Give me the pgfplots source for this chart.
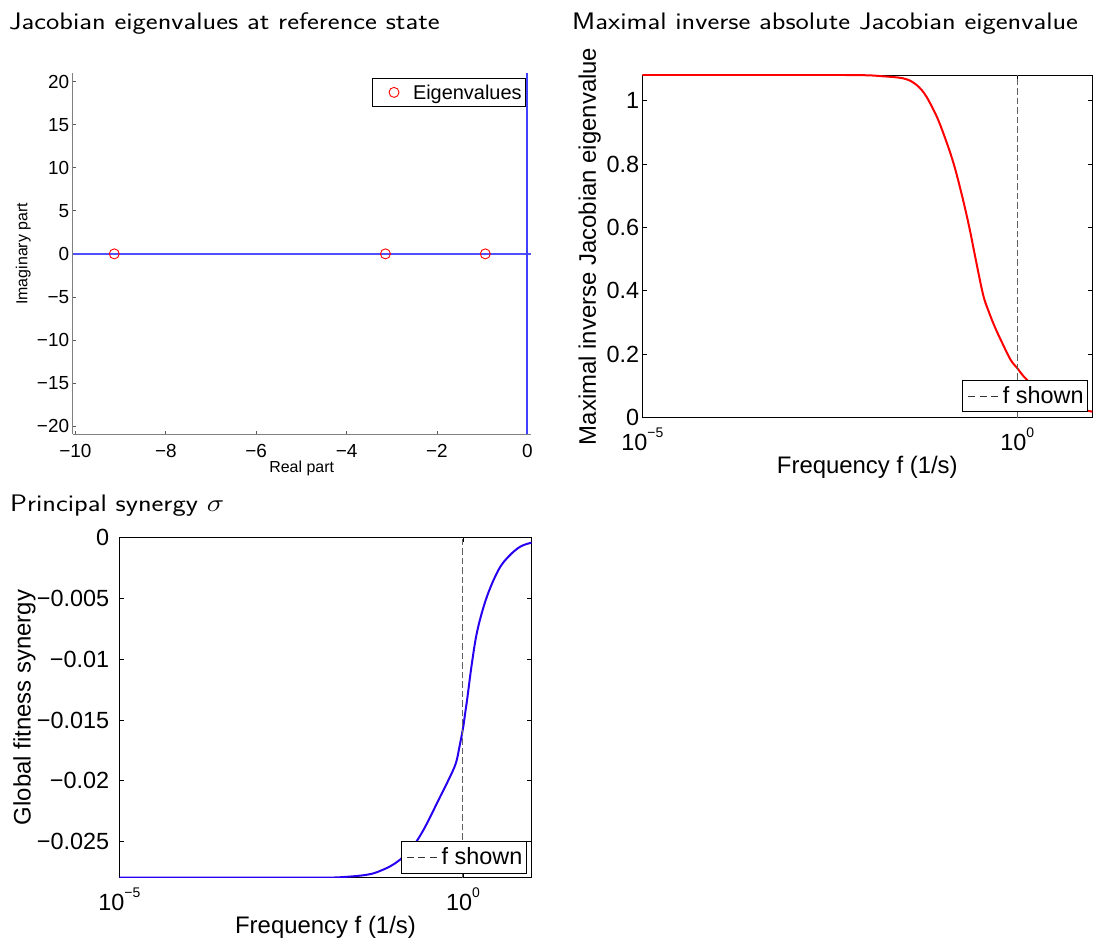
\documentclass[border=0pt]{standalone}
\usepackage{fontspec}
\setmainfont{Liberation Sans}
\usepackage{pgfplots}
\pgfplotsset{compat=1.18}

\definecolor{dashgray}{rgb}{0.38,0.38,0.38}
\definecolor{axgray}{rgb}{0.5,0.5,0.5}
\definecolor{synblue}{RGB}{40,0,240}
\definecolor{linblue}{RGB}{80,80,255}

\newcommand{\tenp}[1]{10\raisebox{0.55em}{\fontsize{14}{14}\selectfont #1}}
\newcommand{\ttl}[1]{\scalebox{1.18}[1]{\fontsize{24}{28}\sffamily #1}}

\pgfplotsset{
  boxaxis/.style={
    scale only axis, anchor=south west,
    axis line style={black, line width=0.8bp},
    every tick/.style={black, line width=0.8bp},
    major tick length=4.5bp, tick align=inside,
    xmin=1e-5, xmax=10,
    xtick={1e-5,1}, xticklabels={\tenp{−5},\tenp{0}},
    xminorticks=false, yminorticks=false,
    scaled y ticks=false,
    tick label style={font=\fontsize{23.5}{27}\selectfont},
    xticklabel style={anchor=base, yshift=-33bp},
    yticklabel style={anchor=east, inner sep=0pt, xshift=-3bp},
    label style={font=\fontsize{24}{28}\selectfont},
    xlabel={Frequency f (1/s)},
    xlabel style={at={(axis description cs:0.5,-0.162)}, anchor=base},
    legend style={anchor=south east, draw=black, line width=0.8bp, fill=white,
      inner xsep=4bp, inner ysep=6bp, font=\fontsize{23.5}{27}\selectfont,
      nodes={inner sep=0pt, text height=17.5bp, text depth=2.1bp}},
    legend image code/.code={
      \path[draw=none] (-2bp,0bp) -- (34.7bp,0bp);
      \draw[black!80, line width=0.8bp, dash pattern=on 7bp off 4.5bp] (0bp,0bp) -- (30bp,0bp);
    },
  },
}

\begin{document}
\begin{tikzpicture}[x=1bp,y=1bp]
\useasboundingbox (0,0) rectangle (1099,942);

\node[anchor=base west, inner sep=0pt] at (9,912) {\ttl{Jacobian eigenvalues at reference state}};
\node[anchor=base west, inner sep=0pt] at (572,912) {\ttl{Maximal inverse absolute Jacobian eigenvalue}};
\node[anchor=base west, inner sep=0pt] at (10,430) {\ttl{Principal synergy $\sigma$}};

% top left: eigenvalues in the complex plane
\begin{axis}[
  at={(72.7bp,507.7bp)}, anchor=south west, scale only axis,
  width=458bp, height=361bp,
  xmin=-10.06, xmax=0.075, ymin=-20.95, ymax=20.97,
  clip=false,
  axis x line*=bottom, axis y line*=left,
  axis line style={axgray, line width=0.9bp},
  every tick/.style={black!65, line width=0.8bp},
  major tick length=3.5bp, tick align=inside,
  xtick={-10,-8,-6,-4,-2,0}, xticklabels={−10,−8,−6,−4,−2,0},
  ytick={-20,-15,-10,-5,0,5,10,15,20},
  yticklabels={−20,−15,−10,−5,0,5,10,15,20},
  tick label style={font=\fontsize{19}{22}\selectfont},
  xticklabel style={anchor=base, yshift=-23bp},
  yticklabel style={anchor=east, inner sep=0pt, xshift=-3.4bp},
  label style={font=\fontsize{16}{19}\selectfont},
  xlabel={Real part},
  xlabel style={at={(axis description cs:0.5,-0.106)}, anchor=base},
  ylabel={Imaginary part},
  ylabel style={at={(axis description cs:-0.0987,0.5)}, anchor=base},
  legend style={at={(0.9897,0.987)}, anchor=north east, draw=black, line width=0.8bp, fill=white,
    inner xsep=4bp, inner ysep=6bp, font=\fontsize{20}{24}\selectfont,
    nodes={inner sep=0pt, text height=15bp, text depth=1bp}},
  legend image code/.code={
    \path[draw=none] (-18bp,0bp) -- (19bp,0bp);
    \draw[red, line width=0.9bp] (0bp,0bp) circle (5bp);
  },
]
\addplot[linblue, line width=1.3bp, forget plot] coordinates {(-10.06,0) (0.075,0)};
\addplot[blue!75!white, line width=1.8bp, forget plot] coordinates {(0,-20.95) (0,20.97)};
\addplot[only marks, mark=o, mark size=5bp, red, mark options={line width=0.9bp}]
  coordinates {(-9.14,0) (-3.14,0) (-0.93,0)};
\addlegendentry{Eigenvalues}
\end{axis}

% top right: maximal inverse absolute eigenvalue vs frequency
\begin{semilogxaxis}[
  boxaxis,
  at={(642.3bp,524.3bp)},
  width=450bp, height=342.7bp,
  ymin=0, ymax=1.081,
  ytick={0,0.2,0.4,0.6,0.8,1}, yticklabels={0,0.2,0.4,0.6,0.8,1},
  ylabel={Maximal inverse Jacobian eigenvalue},
  ylabel style={at={(axis description cs:-0.103,0.5)}, anchor=base},
  legend style={at={(0.9904,0.0158)}},
]
\addplot[red, line width=2bp, smooth, tension=0.6, forget plot] table {
x y
1e-5 1.081
1e-4 1.081
1e-3 1.081
0.0045 1.081
0.01 1.080
0.0159 1.077
0.0296 1.0707
0.0423 1.0549
0.0574 1.0233
0.0764 0.9707
0.0957 0.918
0.1368 0.813
0.1799 0.708
0.2280 0.6025
0.2799 0.4975
0.3499 0.388
0.411 0.338
0.5000 0.287
0.6324 0.2347
0.8166 0.182
1 0.156
1.227 0.129
1.585 0.105
2.512 0.072
3.981 0.048
6.310 0.030
10 0.019
};
\addplot[dashgray, line width=1bp, dash pattern=on 6.5bp off 3bp] coordinates {(1,0) (1,1.081)};
\addlegendentry{f shown}
\end{semilogxaxis}

% bottom left: principal synergy vs frequency
\begin{semilogxaxis}[
  boxaxis,
  at={(119.3bp,64.3bp)},
  width=412.4bp, height=340.4bp,
  ymin=-0.02795, ymax=0,
  ytick={-0.025,-0.02,-0.015,-0.01,-0.005,0},
  yticklabels={−0.025,−0.02,−0.015,−0.01,−0.005,0},
  yticklabel style={xshift=-7bp},
  ylabel={Global fitness synergy},
  ylabel style={at={(axis description cs:-0.215,0.5)}, anchor=base},
  xlabel style={at={(axis description cs:0.5,-0.163)}},
  legend style={at={(0.988,0.0129)}},
]
\addplot[synblue, line width=2bp, smooth, tension=0.6, forget plot] table {
x y
1e-5 -0.02795
1e-4 -0.02795
1e-3 -0.02795
0.01 -0.02794
0.0178 -0.0279
0.0377 -0.02773
0.0589 -0.02745
0.1030 -0.02677
0.1702 -0.02567
0.2661 -0.02403
0.4656 -0.0213
0.6152 -0.01993
0.7870 -0.01856
0.889 -0.01719
1 -0.01570
1.076 -0.01445
1.164 -0.01309
1.349 -0.01035
1.626 -0.00761
2.228 -0.00488
3.289 -0.00268
4.592 -0.00159
6.808 -0.00077
10 -0.00044
};
\addplot[dashgray, line width=1bp, dash pattern=on 6.5bp off 3bp] coordinates {(1,-0.02795) (1,0)};
\addlegendentry{f shown}
\end{semilogxaxis}
\end{tikzpicture}
\end{document}
